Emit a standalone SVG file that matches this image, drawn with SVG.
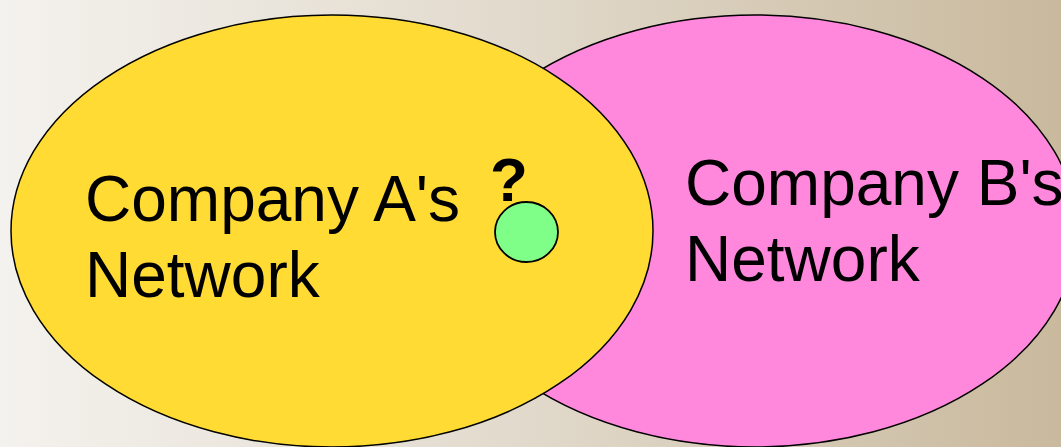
<svg xmlns="http://www.w3.org/2000/svg" width="1061" height="447" viewBox="0 0 1061 447">
  <defs>
    <linearGradient id="bg" x1="0" y1="0" x2="1" y2="0">
      <stop offset="0" stop-color="#f4f2ee"/>
      <stop offset="0.5" stop-color="#e1d9cb"/>
      <stop offset="1" stop-color="#c9b99d"/>
    </linearGradient>
  </defs>
  <style>
    .lbl { font-family: "Liberation Sans", Arial, sans-serif; font-size: 64px; fill: #000; }
    .q { font-family: "Liberation Sans", Arial, sans-serif; font-size: 62px; font-weight: bold; fill: #000; }
    .net { stroke: #000; stroke-width: 1.5; }
  </style>
  <rect x="0" y="0" width="1061" height="447" fill="url(#bg)"/>
  <g id="companyB">
    <ellipse class="net" cx="755" cy="231" rx="322" ry="216" fill="#ff88dd"/>
    <text class="lbl" x="685" y="205">Company B's</text>
    <text class="lbl" x="685" y="281">Network</text>
  </g>
  <g id="companyA">
    <ellipse class="net" cx="332" cy="231" rx="321" ry="216" fill="#ffdb33"/>
    <text class="lbl" x="85" y="221">Company A's</text>
    <text class="lbl" x="85" y="297">Network</text>
  </g>
  <g id="unknown">
    <text class="q" x="490" y="201">?</text>
    <ellipse cx="526.5" cy="232" rx="31.5" ry="30" fill="#80ff88" stroke="#000" stroke-width="1.8"/>
  </g>
  <g id="connectors"/>
</svg>
